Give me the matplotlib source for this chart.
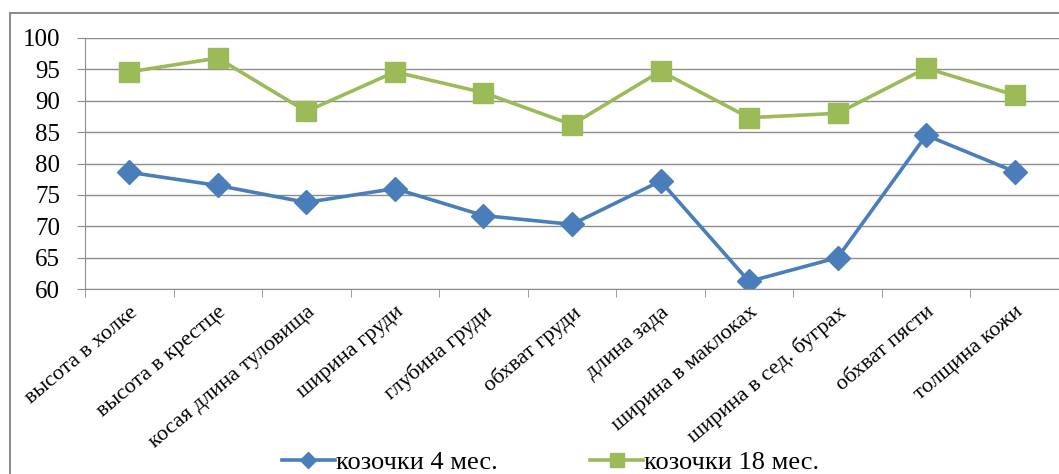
import matplotlib.pyplot as plt
from matplotlib.patches import Rectangle

categories = ['высота в холке', 'высота в крестце', 'косая длина туловища',
              'ширина груди', 'глубина груди', 'обхват груди', 'длина зада',
              'ширина в маклоках', 'ширина в сед. буграх', 'обхват пясти',
              'толщина кожи']
kids_4m = [78.6, 76.5, 73.8, 76.0, 71.7, 70.3, 77.2, 61.2, 65.0, 84.5, 78.7]
kids_18m = [94.6, 96.8, 88.3, 94.6, 91.3, 86.2, 94.7, 87.3, 88.0, 95.2, 90.9]
y_ticks = [60, 65, 70, 75, 80, 85, 90, 95, 100]

plt.rcParams['font.family'] = ['Liberation Serif', 'DejaVu Serif']

W, H = 1059, 474
fig = plt.figure(figsize=(W / 100, H / 100), dpi=100)
ax = fig.add_axes([85 / W, 1 - 289 / H, 974 / W, 251 / H])

# chart border
fig.patches.append(Rectangle((10 / W, -0.05), 1.1, 1 - 13 / H + 0.05,
                             transform=fig.transFigure, fill=False,
                             edgecolor='#8c8c8c', linewidth=1.5))

x = list(range(len(categories)))
ax.plot(x, kids_4m, color='#4A7EBB', linewidth=2.6, marker='D',
        markersize=12, label='козочки 4 мес.')
ax.plot(x, kids_18m, color='#9BBB59', linewidth=2.6, marker='s',
        markersize=15, label='козочки 18 мес.')

ax.set_xlim(-0.5, len(categories) - 0.5)
ax.set_ylim(60, 100)
ax.set_yticks(y_ticks)
ax.tick_params(axis='y', labelsize=18, length=6, color='#8c8c8c', pad=12)
ax.grid(axis='y', color='#8c8c8c', linewidth=1)
ax.set_axisbelow(True)

ax.set_xticks(x)
ax.set_xticklabels(categories, rotation=40, ha='right', rotation_mode='anchor',
                   fontsize=16)
ax.set_xticks([i - 0.5 for i in range(len(categories) + 1)], minor=True)
ax.tick_params(axis='x', which='major', length=0, pad=10)
ax.tick_params(axis='x', which='minor', length=6, color='#8c8c8c')

for s in ['top', 'right']:
    ax.spines[s].set_visible(False)
for s in ['left', 'bottom']:
    ax.spines[s].set_color('#8c8c8c')

fig.legend(loc='lower center', bbox_to_anchor=(0.52, -0.05), ncol=2,
           frameon=False, fontsize=19, handlelength=2.0, handletextpad=0.05,
           columnspacing=3.5, markerscale=0.65)

fig.savefig('out.png', dpi=100)
